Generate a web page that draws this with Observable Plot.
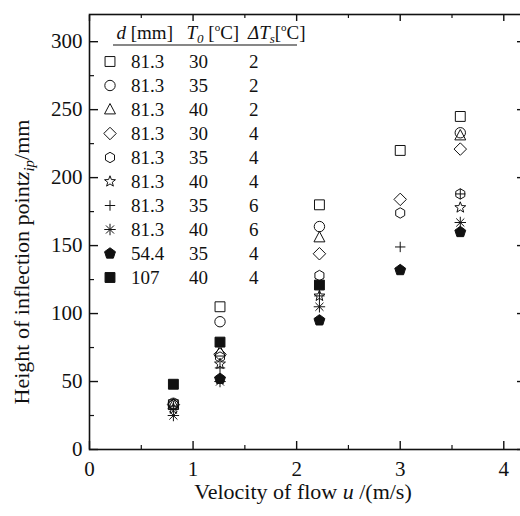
<!DOCTYPE html>
<html><head><meta charset="utf-8">
<script src="https://cdn.jsdelivr.net/npm/d3@7"></script>
<script src="https://cdn.jsdelivr.net/npm/@observablehq/plot@0.6"></script>
<style>
html,body{margin:0;padding:0;background:#fff;overflow:hidden}
#chart{position:relative;width:520px;height:516px}
</style></head><body><div id="chart"></div>
<script>
// ---- data ----
const velocity = [0.81, 1.26, 2.22, 3.0, 3.58];
const seriesNames = ["sq", "ci", "tr", "di", "hx", "st", "pl", "as", "pe", "fs"];
const diameter = ["81.3", "81.3", "81.3", "81.3", "81.3", "81.3", "81.3", "81.3", "54.4", "107"];
const inletTemp = ["30", "35", "40", "30", "35", "40", "35", "40", "35", "40"];
const deltaTs = ["2", "2", "2", "4", "4", "4", "6", "6", "4", "4"];
const zSquare30_2 = [33, 105, 180, 220, 245];
const zCircle35_2 = [34, 94, 164, null, 233];
const zTriangle40_2 = [33, 72, 156, null, 231];
const zDiamond30_4 = [33, 70, 144, 184, 221];
const zHexagon35_4 = [33, 68, 128, 174, 188];
const zStar40_4 = [30, 63, 113, null, 178];
const zPlus35_6 = [32, 60, 113, 149, 188];
const zAsterisk40_6 = [25, 50, 105, null, 167];
const zPentagon54_35_4 = [null, 52, 95, 132, 160];
const zFilledSquare107_40_4 = [48, 79, 121, null, null];
const seriesValues = [zSquare30_2, zCircle35_2, zTriangle40_2, zDiamond30_4, zHexagon35_4,
  zStar40_4, zPlus35_6, zAsterisk40_6, zPentagon54_35_4, zFilledSquare107_40_4];
const xTicks = [0, 1, 2, 3, 4];
const yTicks = [0, 50, 100, 150, 200, 250, 300];

// ---- symbols ----
const R = s => Math.sqrt(s / Math.PI);
const poly = (c, pts) => { c.moveTo(pts[0][0], pts[0][1]); for (let i = 1; i < pts.length; i++) c.lineTo(pts[i][0], pts[i][1]); c.closePath(); };
const regular = (n, r, rot) => d3.range(n).map(i => { const a = rot + i * 2 * Math.PI / n; return [r * Math.cos(a), r * Math.sin(a)]; });
const symbols = {
  sq: {draw(c, s) { const r = R(s) * 0.95; poly(c, [[-r, -r], [r, -r], [r, r], [-r, r]]); }},
  ci: {draw(c, s) { const r = R(s); c.moveTo(r, 0); c.arc(0, 0, r, 0, 2 * Math.PI); }},
  tr: {draw(c, s) { const r = R(s); poly(c, [[0, -r * 1.15], [r * 1.05, r * 0.85], [-r * 1.05, r * 0.85]]); }},
  di: {draw(c, s) { const r = R(s) * 1.2; poly(c, [[0, -r], [r, 0], [0, r], [-r, 0]]); }},
  hx: {draw(c, s) { poly(c, regular(6, R(s), -Math.PI / 2)); }},
  st: {draw(c, s) { const r = R(s) * 1.1; const pts = d3.range(10).map(i => { const rr = i % 2 ? r * 0.42 : r; const a = -Math.PI / 2 + i * Math.PI / 5; return [rr * Math.cos(a), rr * Math.sin(a)]; }); poly(c, pts); }},
  pl: {draw(c, s) { const r = R(s); c.moveTo(-r, 0); c.lineTo(r, 0); c.moveTo(0, -r); c.lineTo(0, r); }},
  as: {draw(c, s) { const r = R(s) * 1.1; for (let i = 0; i < 4; i++) { const a = i * Math.PI / 4; c.moveTo(-r * Math.cos(a), -r * Math.sin(a)); c.lineTo(r * Math.cos(a), r * Math.sin(a)); } }},
  pe: {draw(c, s) { poly(c, regular(5, R(s) * 1.1, -Math.PI / 2)); }},
  fs: {draw(c, s) { const r = R(s) * 0.95; poly(c, [[-r, -r], [r, -r], [r, r], [-r, r]]); }}
};
const filled = {pe: true, fs: true};

const rows = [];
seriesNames.forEach((k, i) => seriesValues[i].forEach((z, j) => { if (z != null) rows.push({key: k, u: velocity[j], z}); }));

const font = "Liberation Serif, Times New Roman, serif";
const dotMarks = seriesNames.map(k => Plot.dot(rows.filter(d => d.key === k), {
  x: "u", y: "z", r: 5.2, symbol: symbols[k], stroke: "#111", strokeWidth: 1,
  fill: filled[k] ? "#111" : "none"
}));

const chart = Plot.plot({
  width: 520, height: 516,
  marginLeft: 89, marginRight: -4, marginTop: 14, marginBottom: 67,
  style: {fontFamily: font, fontSize: "21px", color: "#111", background: "#fff"},
  x: {domain: [0, 4.2]},
  y: {domain: [0, 320]},
  marks: [
    Plot.axisX({ticks: xTicks, tickFormat: d => String(d), tickSize: 0, tickPadding: 12, label: null, fontSize: 21}),
    Plot.axisY({ticks: yTicks, tickFormat: d => String(d), tickSize: 0, tickPadding: 7, label: null, fontSize: 21}),
    Plot.axisX({anchor: "bottom", ticks: xTicks, tickSize: -8, text: null, label: null, strokeWidth: 1.4}),
    Plot.axisX({anchor: "bottom", ticks: d3.range(0.5, 4.2, 1), tickSize: -4, text: null, label: null, strokeWidth: 1.2}),
    Plot.axisX({anchor: "top", ticks: xTicks, tickSize: -6, text: null, label: null, strokeWidth: 1.4}),
    Plot.axisX({anchor: "top", ticks: d3.range(0.5, 4.2, 1), tickSize: -3, text: null, label: null, strokeWidth: 1.2}),
    Plot.axisY({anchor: "left", ticks: yTicks, tickSize: -9, text: null, label: null, strokeWidth: 1.4}),
    Plot.axisY({anchor: "left", ticks: d3.range(25, 320, 50), tickSize: -5, text: null, label: null, strokeWidth: 1.2}),
    Plot.axisY({anchor: "right", ticks: yTicks, tickSize: -8, text: null, label: null, strokeWidth: 1.4}),
    Plot.axisY({anchor: "right", ticks: d3.range(25, 320, 50), tickSize: -4, text: null, label: null, strokeWidth: 1.2}),
    Plot.frame({stroke: "#111", strokeWidth: 1.6}),
    ...dotMarks
  ]
});
document.getElementById("chart").appendChild(chart);

// ---- titles & legend ----
const svg = d3.select(chart);
const xt = svg.append("text").attr("x", 303).attr("y", 499).attr("text-anchor", "middle")
  .attr("font-family", font).attr("font-size", 22).attr("fill", "#111");
xt.append("tspan").text("Velocity of flow ");
xt.append("tspan").attr("font-style", "italic").text("u");
xt.append("tspan").text(" /(m/s)");

const yt = svg.append("text").attr("transform", "translate(29,262) rotate(-90)").attr("text-anchor", "middle")
  .attr("font-family", font).attr("font-size", 22).attr("fill", "#111");
yt.append("tspan").text("Height of inflection point");
yt.append("tspan").attr("font-style", "italic").text("z");
yt.append("tspan").attr("font-style", "italic").attr("font-size", 15).attr("dy", 5).text("ip");
yt.append("tspan").attr("dy", -5).text("/mm");

const lg = svg.append("g").attr("font-family", font).attr("font-size", 19).attr("fill", "#111").attr("text-anchor", "start");
const hd = lg.append("text").attr("y", 39);
hd.append("tspan").attr("x", 116.5).attr("font-style", "italic").text("d");
hd.append("tspan").text(" [mm]");
hd.append("tspan").attr("x", 186.5).attr("font-style", "italic").text("T");
hd.append("tspan").attr("font-style", "italic").attr("font-size", 13).attr("dy", 4).text("0");
hd.append("tspan").attr("dy", -4).text(" [");
hd.append("tspan").attr("font-size", 11).attr("dy", -8).text("o");
hd.append("tspan").attr("dy", 8).text("C]");
hd.append("tspan").attr("x", 248).attr("font-style", "italic").text("ΔT");
hd.append("tspan").attr("font-style", "italic").attr("font-size", 13).attr("dy", 4).text("s");
hd.append("tspan").attr("dy", -4).text("[");
hd.append("tspan").attr("font-size", 11).attr("dy", -8).text("o");
hd.append("tspan").attr("dy", 8).text("C]");
lg.append("line").attr("x1", 113).attr("x2", 297).attr("y1", 45).attr("y2", 45).attr("stroke", "#111").attr("stroke-width", 1.2);

seriesNames.forEach((k, i) => {
  const cy = 61.5 + 24 * i;
  lg.append("path").attr("transform", `translate(110,${cy})`)
    .attr("d", d3.symbol(symbols[k], Math.PI * 5.2 * 5.2)())
    .attr("stroke", "#111").attr("stroke-width", 1).attr("fill", filled[k] ? "#111" : "none");
  lg.append("text").attr("x", 131).attr("y", cy + 6.5).text(diameter[i]);
  lg.append("text").attr("x", 189).attr("y", cy + 6.5).text(inletTemp[i]);
  lg.append("text").attr("x", 249).attr("y", cy + 6.5).text(deltaTs[i]);
});
</script>
</body></html>
